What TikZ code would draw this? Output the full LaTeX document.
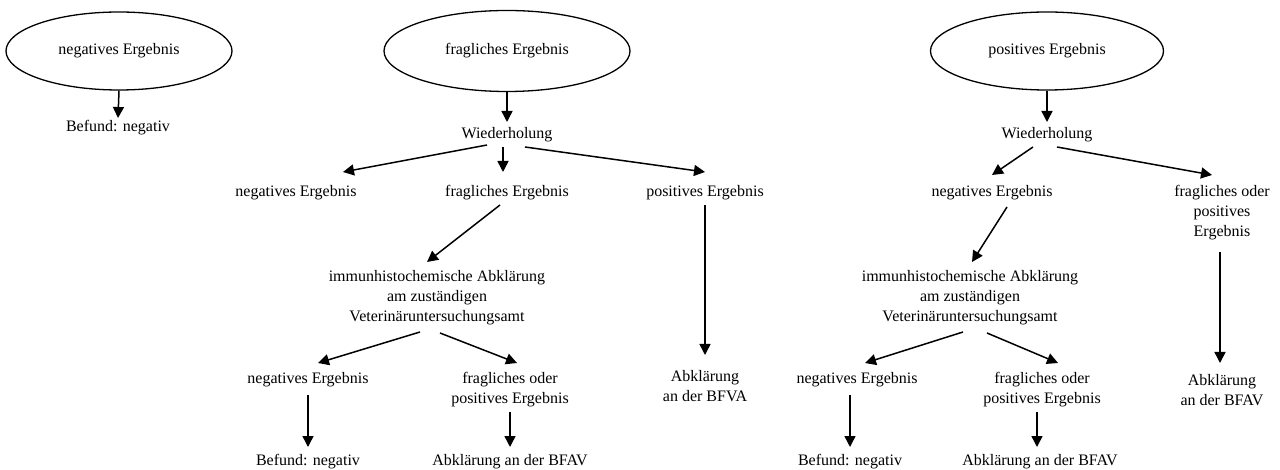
\documentclass[tikz,border=0pt]{standalone}
\usepackage{fontspec}
\setmainfont{Liberation Serif}
\usetikzlibrary{shapes.geometric,arrows.meta}
\begin{document}
\begin{tikzpicture}[x=1pt,y=-1pt,
  txt/.style={inner sep=0pt,align=center,font=\fontsize{16}{20}\selectfont},
  oval/.style={ellipse,draw,line width=1.3pt,inner sep=0pt,font=\fontsize{16}{20}\selectfont},
  arr/.style={line width=1.5pt,-{Triangle[length=11pt,width=11pt]}}]
\useasboundingbox (0,0) rectangle (1280,470);
% left
\node[oval,minimum width=226,minimum height=78] (e1) at (119,51) {negatives Ergebnis};
\node[txt] (b1) at (118,128) {Befund: negativ};
% middle
\node[oval,minimum width=246,minimum height=81] (e2) at (507,51) {fragliches Ergebnis};
\node[txt] (w2) at (507,135) {Wiederholung};
\node[txt] (n2a) at (296,193) {negatives Ergebnis};
\node[txt] (f2) at (507,193) {fragliches Ergebnis};
\node[txt] (p2) at (705,193) {positives Ergebnis};
\node[txt] (i2) at (437,298) {immunhistochemische Abklärung\\am zuständigen\\Veterinäruntersuchungsamt};
\node[txt] (n2b) at (308,380) {negatives Ergebnis};
\node[txt] (fp2) at (510,390) {fragliches oder\\positives Ergebnis};
\node[txt] (b2) at (308,462) {Befund: negativ};
\node[txt] (a2) at (510,462) {Abklärung an der BFAV};
\node[txt] (a2r) at (705,386) {Abklärung\\an der BFVA};
% right
\node[oval,minimum width=233,minimum height=78] (e3) at (1047,51) {positives Ergebnis};
\node[txt] (w3) at (1047,135) {Wiederholung};
\node[txt] (n3a) at (992,193) {negatives Ergebnis};
\node[txt] (fp3a) at (1222,213) {fragliches oder\\positives\\Ergebnis};
\node[txt] (i3) at (970,298) {immunhistochemische Abklärung\\am zuständigen\\Veterinäruntersuchungsamt};
\node[txt] (n3b) at (857,380) {negatives Ergebnis};
\node[txt] (fp3b) at (1042,390) {fragliches oder\\positives Ergebnis};
\node[txt] (b3) at (850,462) {Befund: negativ};
\node[txt] (a3) at (1040,462) {Abklärung an der BFAV};
\node[txt] (a3r) at (1222,390) {Abklärung\\an der BFAV};
% arrows left
\draw[arr] (e1.south) -- ([shift={(0,-10)}]b1.center);
% arrows middle
\draw[arr] (e2.south) -- ([shift={(0,-13)}]w2.center);
\draw[arr] ([shift={(-20,10)}]w2.center) -- ([shift={(47,-21)}]n2a.center);
\draw[arr] ([shift={(-4,12)}]w2.center) -- ([shift={(-4,-21)}]f2.center);
\draw[arr] ([shift={(18,12)}]w2.center) -- ([shift={(0,-21)}]p2.center);
\draw[arr] ([shift={(-7,12)}]f2.center) -- ([shift={(-10,-36)}]i2.center);
\draw[arr] ([shift={(-17,34)}]i2.center) -- ([shift={(10,-17)}]n2b.center);
\draw[arr] ([shift={(3,35)}]i2.center) -- ([shift={(7,-27)}]fp2.center);
\draw[arr] ([shift={(0,15)}]n2b.center) -- ([shift={(0,-15)}]b2.center);
\draw[arr] ([shift={(0,22)}]fp2.center) -- ([shift={(0,-15)}]a2.center);
\draw[arr] ([shift={(0,12)}]p2.center) -- ([shift={(0,-31)}]a2r.center);
% arrows right
\draw[arr] (e3.south) -- ([shift={(0,-13)}]w3.center);
\draw[arr] ([shift={(-14,12)}]w3.center) -- ([shift={(0,-18)}]n3a.center);
\draw[arr] ([shift={(10,12)}]w3.center) -- ([shift={(-10,-38)}]fp3a.center);
\draw[arr] ([shift={(15,14)}]n3a.center) -- ([shift={(2,-36)}]i3.center);
\draw[arr] ([shift={(-7,34)}]i3.center) -- ([shift={(8,-17)}]n3b.center);
\draw[arr] ([shift={(17,35)}]i3.center) -- ([shift={(16,-27)}]fp3b.center);
\draw[arr] ([shift={(-7,15)}]n3b.center) -- ([shift={(0,-15)}]b3.center);
\draw[arr] ([shift={(-5,22)}]fp3b.center) -- ([shift={(-3,-15)}]a3.center);
\draw[arr] ([shift={(-2,39)}]fp3a.center) -- ([shift={(-2,-27)}]a3r.center);
\end{tikzpicture}
\end{document}
